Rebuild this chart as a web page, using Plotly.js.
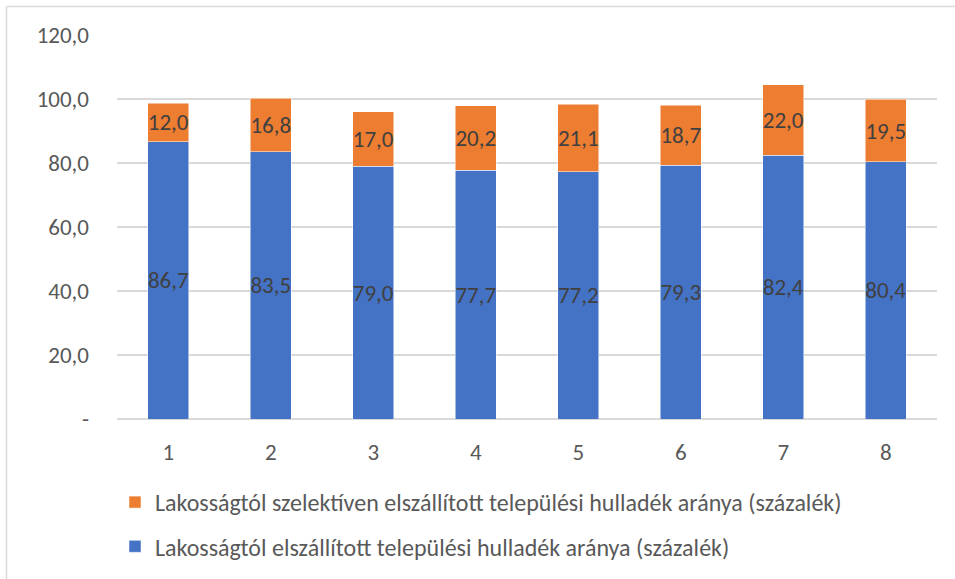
<!DOCTYPE html>
<html>
<head>
<meta charset="utf-8">
<script src="https://cdn.plot.ly/plotly-3.0.1.min.js"></script>
<style>html,body{margin:0;padding:0;background:#fff;}#chart{width:955px;height:579px;}</style>
</head>
<body>
<div id="chart"></div>
<script>
const categories = ['1','2','3','4','5','6','7','8'];
const totalShare = [86.7, 83.5, 79.0, 77.7, 77.2, 79.3, 82.4, 80.4];
const selectiveShare = [12.0, 16.8, 17.0, 20.2, 21.1, 18.7, 22.0, 19.5];
const totalName = 'Lakosságtól elszállított települési hulladék aránya (százalék)';
const selectiveName = 'Lakosságtól szelektíven elszállított települési hulladék aránya (százalék)';
const yTickVals = [0, 20, 40, 60, 80, 100, 120];
const yTickText = ['-', '20,0', '40,0', '60,0', '80,0', '100,0', '120,0'];

const FONT = "Carlito, Lato, 'Open Sans', sans-serif";
const FS = 23;
const fmt = v => v.toFixed(1).replace('.', ',');

const traces = [
  {
    type: 'bar', x: categories, y: totalShare, name: totalName,
    marker: {color: '#4472C4', line: {color: '#ffffff', width: 0.5}},
    text: totalShare.map(fmt), textposition: 'inside', insidetextanchor: 'middle',
    textangle: 0, constraintext: 'none', cliponaxis: false,
    textfont: {family: FONT, size: FS, color: '#404040'},
    legendgroup: 'a', legendrank: 2, hoverinfo: 'skip'
  },
  {
    type: 'bar', x: categories, y: selectiveShare, name: selectiveName,
    marker: {color: '#ED7D31', line: {color: '#ffffff', width: 0.5}},
    text: selectiveShare.map(fmt), textposition: 'inside', insidetextanchor: 'middle',
    textangle: 0, constraintext: 'none', cliponaxis: false,
    textfont: {family: FONT, size: FS, color: '#404040'},
    legendgroup: 'b', legendrank: 1, hoverinfo: 'skip'
  }
];

const L = 117, W = 820, T = 35, H = 384;
const px = p => (p - L) / W;
const py = p => (T + H - p) / H;

const layout = {
  width: 955, height: 579,
  margin: {l: L, r: 955 - L - W, t: T, b: 579 - T - H, autoexpand: false},
  paper_bgcolor: '#ffffff', plot_bgcolor: '#ffffff',
  barmode: 'stack', bargap: 0.6,
  font: {family: FONT, size: FS, color: '#595959'},
  xaxis: {
    type: 'category', showgrid: false, zeroline: false, showline: false, automargin: false,
    ticks: '', ticklabelstandoff: 17, tickfont: {family: FONT, size: FS, color: '#595959'}
  },
  yaxis: {
    range: [0, 120], tickvals: yTickVals, ticktext: yTickText, automargin: false,
    showgrid: true, gridcolor: '#d9d9d9', gridwidth: 1.3,
    zeroline: true, zerolinecolor: '#d9d9d9', zerolinewidth: 1.3,
    showline: false, ticks: '', ticklabelstandoff: 27,
    tickfont: {family: FONT, size: FS, color: '#595959'}
  },
  showlegend: true,
  legend: {
    xref: 'container', yref: 'container',
    x: 115 / 955, xanchor: 'left', y: 1 - 480 / 579, yanchor: 'top',
    traceorder: 'grouped', tracegroupgap: 10,
    font: {family: FONT, size: 24, color: '#595959'},
    bgcolor: 'rgba(0,0,0,0)'
  },
  shapes: [
    {type: 'line', xref: 'paper', yref: 'paper', x0: px(6.5), x1: px(955), y0: py(6.5), y1: py(6.5), line: {color: '#d9d9d9', width: 1.5}},
    {type: 'line', xref: 'paper', yref: 'paper', x0: px(6.5), x1: px(6.5), y0: py(6.5), y1: py(579), line: {color: '#d9d9d9', width: 1.5}}
  ]
};

Plotly.newPlot('chart', traces, layout, {displayModeBar: false, staticPlot: true});
</script>
</body>
</html>
